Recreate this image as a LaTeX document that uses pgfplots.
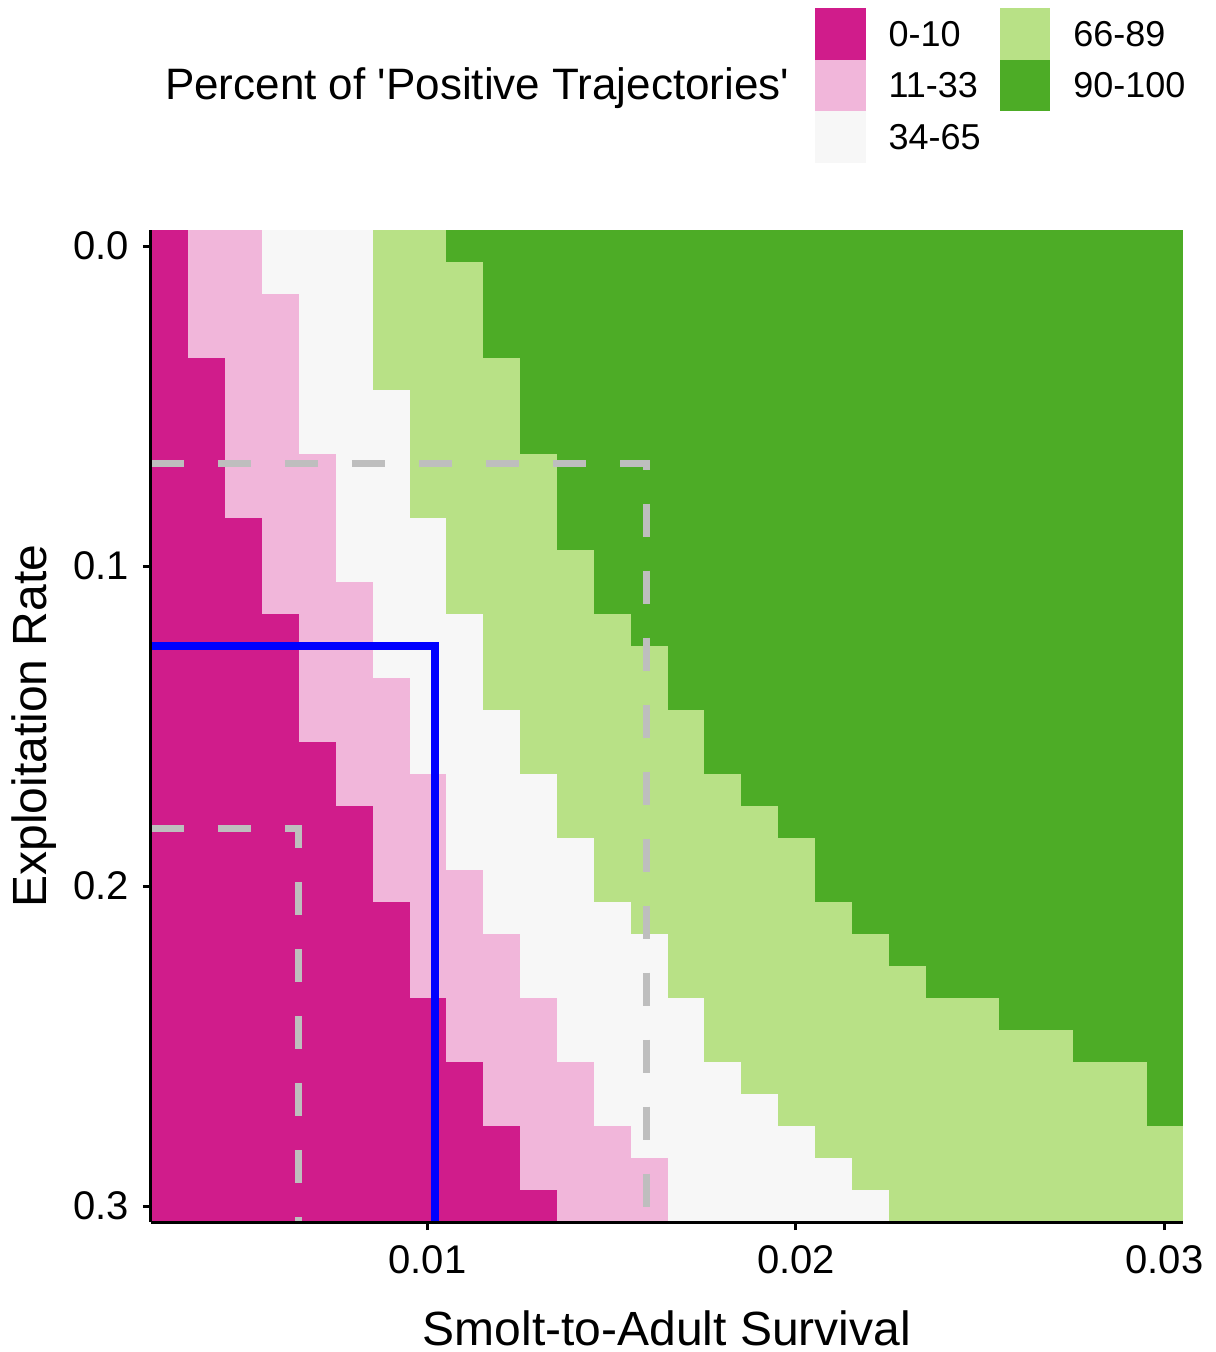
\documentclass[border=0pt]{standalone}
\usepackage{fontspec}
\setmainfont{Liberation Sans}
\usepackage{pgfplots}
\usepackage{pgfplotstable}
\pgfplotsset{compat=1.18}

\definecolor{c010}{HTML}{D01C8B}
\definecolor{c1133}{HTML}{F1B6DA}
\definecolor{c3465}{HTML}{F7F7F7}
\definecolor{c6689}{HTML}{B8E186}
\definecolor{c90100}{HTML}{4DAC26}
\definecolor{refgrey}{HTML}{BEBEBE}

% For each exploitation rate (row), the survival value at which each
% class band ends: m = 0-10, p = 11-33, w = 34-65, g = 66-89, n = 90-100
\pgfplotstableread{
y    m      p      w      g      n
0.00 0.0035 0.0055 0.0085 0.0105 0.0305
0.01 0.0035 0.0055 0.0085 0.0115 0.0305
0.02 0.0035 0.0065 0.0085 0.0115 0.0305
0.03 0.0035 0.0065 0.0085 0.0115 0.0305
0.04 0.0045 0.0065 0.0085 0.0125 0.0305
0.05 0.0045 0.0065 0.0095 0.0125 0.0305
0.06 0.0045 0.0065 0.0095 0.0125 0.0305
0.07 0.0045 0.0075 0.0095 0.0135 0.0305
0.08 0.0045 0.0075 0.0095 0.0135 0.0305
0.09 0.0055 0.0075 0.0105 0.0135 0.0305
0.10 0.0055 0.0075 0.0105 0.0145 0.0305
0.11 0.0055 0.0085 0.0105 0.0145 0.0305
0.12 0.0065 0.0085 0.0115 0.0155 0.0305
0.13 0.0065 0.0085 0.0115 0.0165 0.0305
0.14 0.0065 0.0095 0.0115 0.0165 0.0305
0.15 0.0065 0.0095 0.0125 0.0175 0.0305
0.16 0.0075 0.0095 0.0125 0.0175 0.0305
0.17 0.0075 0.0105 0.0135 0.0185 0.0305
0.18 0.0085 0.0105 0.0135 0.0195 0.0305
0.19 0.0085 0.0105 0.0145 0.0205 0.0305
0.20 0.0085 0.0115 0.0145 0.0205 0.0305
0.21 0.0095 0.0115 0.0155 0.0215 0.0305
0.22 0.0095 0.0125 0.0165 0.0225 0.0305
0.23 0.0095 0.0125 0.0165 0.0235 0.0305
0.24 0.0105 0.0135 0.0175 0.0255 0.0305
0.25 0.0105 0.0135 0.0175 0.0275 0.0305
0.26 0.0115 0.0145 0.0185 0.0295 0.0305
0.27 0.0115 0.0145 0.0195 0.0295 0.0305
0.28 0.0125 0.0155 0.0205 0.0305 0.0305
0.29 0.0125 0.0165 0.0215 0.0305 0.0305
0.30 0.0135 0.0165 0.0225 0.0305 0.0305
}\bands

\pgfplotsset{
  band/.style={xbar, bar width=0.01, bar shift=0pt, fill=#1, draw=#1,
    line width=0.2pt, forget plot},
  swatch/.style={legend image code/.code={%
    \fill[#1] (0pt,-6.25pt) rectangle (12.25pt,6.25pt);}},
  threshold/.style={refgrey, line width=1.8pt,
    dash pattern=on 8.25pt off 8.5pt, forget plot},
}

\begin{document}
\begin{tikzpicture}
\path[use as bounding box] (-37.75pt,-32.5pt) rectangle (266pt,305.5pt);
\begin{axis}[
  scale only axis,
  width=258pt, height=248pt,
  xmin=0.0025, xmax=0.0305,
  ymin=-0.005, ymax=0.305,
  y dir=reverse,
  clip mode=individual,
  axis x line*=bottom, axis y line*=left,
  axis line style={black, line width=0.75pt, -},
  axis on top,
  xtick={0.01,0.02,0.03},
  ytick={0,0.1,0.2,0.3},
  scaled x ticks=false, scaled y ticks=false,
  tick align=outside,
  major tick length=2pt,
  tick style={black, line width=0.75pt},
  /pgf/number format/assume math mode=true,
  xticklabel style={/pgf/number format/.cd, fixed, fixed zerofill, precision=2,
    /tikz/.cd, font=\fontsize{10}{12}\selectfont, inner sep=0pt, anchor=north, yshift=-3.75pt},
  yticklabel style={/pgf/number format/.cd, fixed, fixed zerofill, precision=1,
    /tikz/.cd, font=\fontsize{10}{12}\selectfont, inner sep=0pt, anchor=east, xshift=-3.25pt},
  xlabel={Smolt-to-Adult Survival},
  ylabel={Exploitation Rate},
  label style={font=\fontsize{12}{14}\selectfont},
  xlabel style={at={(axis description cs:0.5,-0.124)}, anchor=base},
  ylabel style={at={(axis description cs:-0.1017,0.5)}, anchor=base, rotate=0},
  legend columns=2,
  legend style={at={(0.6434,1.2238)}, anchor=north west, draw=none, fill=none,
    inner sep=0pt, outer sep=0pt, row sep=0pt,
    font=\fontsize{9}{11}\selectfont,
    nodes={inner sep=0pt, anchor=west, yshift=-0.75pt},
    /tikz/every odd column/.append style={column sep=5.75pt},
    /tikz/every even column/.append style={column sep=4.75pt}},
]
% class bands, widest first so each narrower band sits on top
\addplot[band=c90100] table[x=n, y=y] {\bands};
\addplot[band=c6689]  table[x=g, y=y] {\bands};
\addplot[band=c3465]  table[x=w, y=y] {\bands};
\addplot[band=c1133]  table[x=p, y=y] {\bands};
\addplot[band=c010]   table[x=m, y=y] {\bands};

% reference thresholds
\addplot[threshold]
  coordinates {(0.0025,0.0679) (0.01595,0.0679) (0.01595,0.305)};
\addplot[threshold]
  coordinates {(0.0025,0.182) (0.0065,0.182) (0.0065,0.305)};
\addplot[blue, line width=1.9pt, forget plot]
  coordinates {(0.0025,0.125) (0.0102,0.125) (0.0102,0.305)};

% legend, filled column by column
\addlegendimage{swatch=c010}   \addlegendentry{0-10}
\addlegendimage{swatch=c6689}  \addlegendentry{66-89}
\addlegendimage{swatch=c1133}  \addlegendentry{11-33}
\addlegendimage{swatch=c90100} \addlegendentry{90-100}
\addlegendimage{swatch=c3465}  \addlegendentry{34-65}
\end{axis}
% legend title, to the left of the swatches
\node[anchor=east, inner sep=0pt, font=\fontsize{11}{13}\selectfont]
  at (159.75pt,283.5pt)
  {Percent of \textquotesingle Positive Trajectories\textquotesingle};
\end{tikzpicture}
\end{document}
